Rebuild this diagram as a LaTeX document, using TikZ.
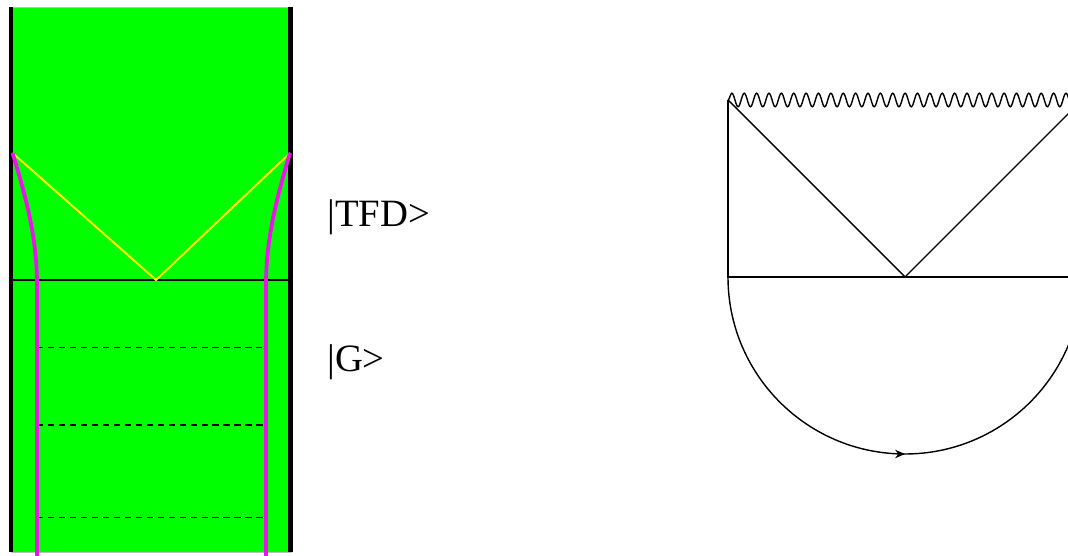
\documentclass[tikz,border=0pt]{standalone}
\usepackage{fontspec}
\setmainfont{Liberation Serif}
\usetikzlibrary{arrows.meta,decorations.pathmorphing,decorations.markings}
\definecolor{bulkgreen}{RGB}{0,255,0}
\definecolor{geoyellow}{RGB}{255,245,0}
\definecolor{branemag}{RGB}{235,20,235}

\begin{document}
\begin{tikzpicture}[x=0.025cm, y=-0.025cm,
  statelbl/.style={anchor=base west, inner sep=0pt, font=\fontsize{27.5}{33}\selectfont},
  brane/.style={color=branemag, line width=2.7pt},
  slice/.style={line width=1pt, dash pattern=on 4.5pt off 3.3pt},
  thin line/.style={line width=1pt}]
\useasboundingbox (0,0) rectangle (1068,556);
\clip (0,0) rectangle (1068,556);

% Striscia verde (sinistra)
\fill[bulkgreen, draw=gray!50, line width=0.4pt] (11,7) rectangle (291,552);
\draw[line width=3.2pt] (11,7) -- (11,552);
\draw[line width=3.2pt] (290.5,7) -- (290.5,552);
\coordinate (tl) at (12.5,153);
\coordinate (tr) at (290,153);
\coordinate (vtx) at (156,280);
\draw[line width=1.2pt] (12.5,280) -- (290,280);

% Cono di luce giallo
\draw[geoyellow, line width=1.4pt] (tl) -- (vtx) -- (tr);

% Slice tratteggiate
\foreach \y/\xr in {347.5/262, 425/265, 517.5/265}{
  \draw[slice] (37,\y) -- (\xr,\y);
}

% Brane magenta
\draw[brane] (tl) .. controls (27,200) and (37,240) .. (37,285) -- (37,556);
\draw[brane] (tr) .. controls (276,200) and (266,240) .. (266,285) -- (266,556);

% Etichette degli stati
\node[statelbl] (tfd) at (327,227) {|TFD>};
\node[statelbl] (gstate) at (327,372) {|G>};

% Diagramma di Penrose (destra)
\coordinate (ptl) at (728,100);
\coordinate (ptr) at (1082,100);
\coordinate (pbl) at (728,277);
\coordinate (pbr) at (1082,277);
\coordinate (pc) at (905,277);
\draw[thin line] (ptl) -- (pbl) -- (pbr) -- (ptr);
\draw[thin line, decorate, decoration={snake, segment length=8.8pt, amplitude=4.8pt}] (ptl) -- (ptr);
\draw[thin line] (ptl) -- (pc) -- (ptr);

% Semicerchio euclideo con freccia
\draw[thin line, postaction={decorate},
  decoration={markings, mark=at position 0.5 with {\arrow{Stealth[length=7pt,width=6pt]}}}]
  (pbl) arc[start angle=180, end angle=0, radius=177];

\end{tikzpicture}
\end{document}
